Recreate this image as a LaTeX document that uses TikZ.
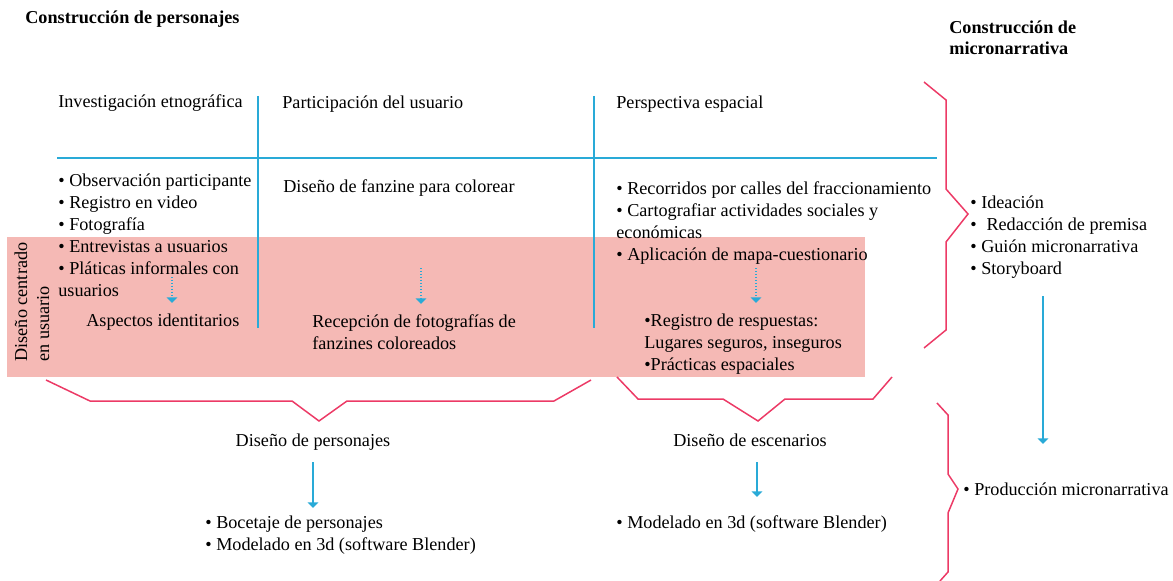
\documentclass[tikz,border=0pt]{standalone}
\usepackage{fontspec}
\setmainfont{Liberation Serif}
\usetikzlibrary{arrows.meta}
\definecolor{celeste}{RGB}{41,170,215}
\definecolor{rosa}{RGB}{245,185,181}
\definecolor{fucsia}{RGB}{236,58,102}
\begin{document}
\begin{tikzpicture}[x=0.02cm,y=-0.02cm,
    texto/.style={anchor=base west,inner sep=0pt,align=left,
                  font=\fontsize{10.35}{12.5}\selectfont},
    titulo/.style={texto,font=\fontsize{10.35}{11.5}\selectfont\bfseries},
    linea/.style={celeste,line width=0.85pt},
    llave/.style={fucsia,line width=0.85pt},
    flecha/.style={celeste,line width=0.85pt,-{Triangle[width=6pt,length=3.2pt]}},
    punteada/.style={flecha,dash pattern=on 0.7pt off 1pt}
  ]
  \useasboundingbox (0,0) rectangle (1173,581);

  % franja de diseno centrado en usuario
  \fill[rosa] (7,237) rectangle (865,377);

  % tabla
  \draw[linea] (258,96) -- (258,328);
  \draw[linea] (594,96) -- (594,328);
  \draw[linea] (57,158) -- (937,158);

  % titulos
  \node[titulo] (tcp) at (25,24) {Construcción de personajes};
  \node[titulo,anchor=north west] (tcm) at (949,21) {Construcción de\\micronarrativa};

  % encabezados
  \node[texto] (ie) at (58,108) {Investigación etnográfica};
  \node[texto] (pu) at (282,109) {Participación del usuario};
  \node[texto] (pe) at (616,109) {Perspectiva espacial};

  % columnas
  \node[texto,anchor=north west] (obs) at (58,174) {• Observación participante\\• Registro en video\\• Fotografía\\• Entrevistas a usuarios\\• Pláticas informales con\\usuarios};
  \node[texto] (ai) at (86,326) {Aspectos identitarios};
  \node[texto] (df) at (283,193) {Diseño de fanzine para colorear};
  \node[texto,anchor=north west] (rf) at (312,314) {Recepción de fotografías de\\fanzines coloreados};
  \node[texto,anchor=north west] (rec) at (616,181) {• Recorridos por calles del fraccionamiento\\• Cartografiar actividades sociales y\\económicas\\• Aplicación de mapa-cuestionario};
  \node[texto,anchor=north west] (rr) at (644,314) {•Registro de respuestas:\\Lugares seguros, inseguros\\•Prácticas espaciales};
  \node[texto,rotate=90,anchor=center] (dcu) at (32,302) {Diseño centrado\\en usuario};

  % diseno
  \node[texto,anchor=base] (dp) at (313,446) {Diseño de personajes};
  \node[texto,anchor=base] (de) at (750,446) {Diseño de escenarios};
  \node[texto,anchor=north west] (bp) at (205,516) {• Bocetaje de personajes\\• Modelado en 3d (software Blender)};
  \node[texto] (me) at (616,528) {• Modelado en 3d (software Blender)};

  % micronarrativa
  \node[texto,anchor=north west] (idea) at (970,196) {• Ideación\\•\hspace{3pt} Redacción de premisa\\• Guión micronarrativa\\• Storyboard};
  \node[texto] (pm) at (963,495) {• Producción micronarrativa};

  % extremos de flechas
  \coordinate (f1a) at (172,277);
  \coordinate (f1b) at (172,303);
  \coordinate (f2a) at (421,268);
  \coordinate (f2b) at (421,304);
  \coordinate (f3a) at (756,268);
  \coordinate (f3b) at (756,303);
  \coordinate (f4a) at (313,462);
  \coordinate (f4b) at (313,508);
  \coordinate (f5a) at (757,462);
  \coordinate (f5b) at (757,497);
  \coordinate (f6a) at (1043,296);
  \coordinate (f6b) at (1043,444);

  \draw[punteada] (f1a) -- (f1b);
  \draw[punteada] (f2a) -- (f2b);
  \draw[punteada] (f3a) -- (f3b);
  \draw[flecha] (f4a) -- (f4b);
  \draw[flecha] (f5a) -- (f5b);
  \draw[flecha] (f6a) -- (f6b);

  % llaves
  \draw[llave] (46,380) -- (90,401) -- (292,401) -- (319,421) -- (347,401)
    -- (554,401) -- (591,380);
  \draw[llave] (617,377) -- (638,399) -- (723,399) -- (758,421) -- (785,399)
    -- (873,399) -- (892,377);
  \draw[llave] (924,82) -- (946,100) -- (946,189) -- (968,214) -- (946,242)
    -- (946,330) -- (924,348);
  \draw[llave] (937,403) -- (948,415) -- (948,474) -- (958,489) -- (948,513)
    -- (948,572) -- (940,581);
\end{tikzpicture}
\end{document}
